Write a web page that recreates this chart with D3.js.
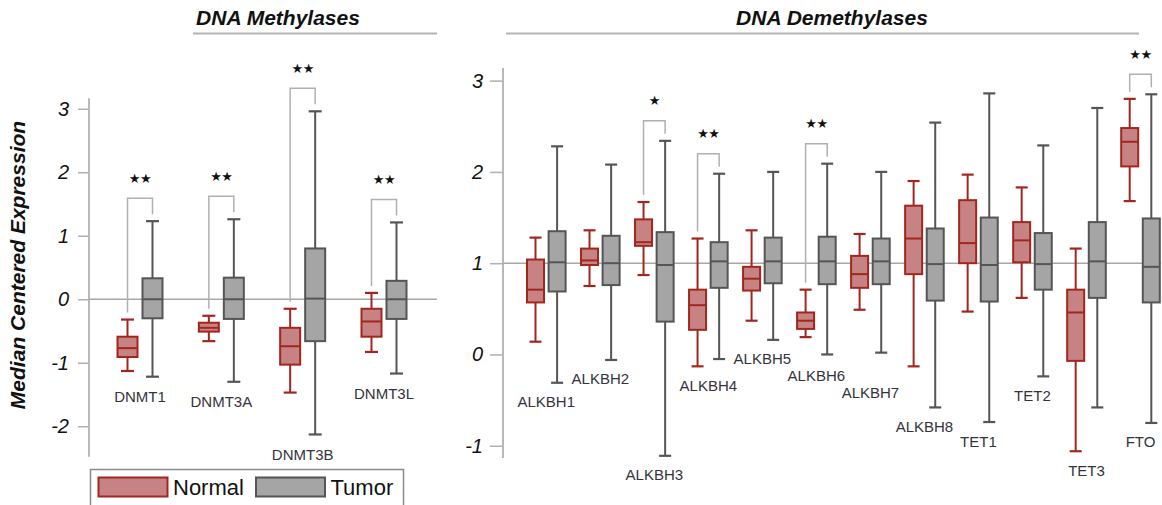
<!DOCTYPE html>
<html><head><meta charset="utf-8">
<script src="https://cdn.jsdelivr.net/npm/d3@7"></script>
<style>body{margin:0;background:#fff}svg{display:block}</style>
</head><body>
<svg id="c" width="1162" height="505"></svg>
<script>
// ---------- data ----------
const leftCats = ["DNMT1","DNMT3A","DNMT3B","DNMT3L"];
// [low whisker, Q1, median, Q3, high whisker]
const leftNormal = [
  [-1.13,-0.91,-0.77,-0.59,-0.32],
  [-0.66,-0.51,-0.45,-0.37,-0.26],
  [-1.47,-1.03,-0.74,-0.45,-0.15],
  [-0.83,-0.59,-0.35,-0.15, 0.10]
];
const leftTumor = [
  [-1.22,-0.30, 0.00, 0.33, 1.23],
  [-1.30,-0.31, 0.00, 0.34, 1.26],
  [-2.13,-0.66, 0.01, 0.80, 2.96],
  [-1.17,-0.31, 0.00, 0.29, 1.21]
];
const leftSig = [["DNMT1","**"],["DNMT3A","**"],["DNMT3B","**"],["DNMT3L","**"]];
const leftTicks = [3,2,1,0,-1,-2];

const rightCats = ["ALKBH1","ALKBH2","ALKBH3","ALKBH4","ALKBH5","ALKBH6","ALKBH7","ALKBH8","TET1","TET2","TET3","FTO"];
const rightNormal = [
  [ 0.14, 0.57, 0.71, 1.04, 1.28],
  [ 0.75, 0.98, 1.03, 1.16, 1.36],
  [ 0.87, 1.19, 1.23, 1.48, 1.67],
  [-0.13, 0.27, 0.54, 0.71, 1.27],
  [ 0.37, 0.70, 0.83, 0.96, 1.36],
  [ 0.19, 0.28, 0.37, 0.46, 0.71],
  [ 0.49, 0.73, 0.88, 1.08, 1.32],
  [-0.13, 0.88, 1.27, 1.63, 1.90],
  [ 0.47, 1.00, 1.22, 1.69, 1.97],
  [ 0.62, 1.01, 1.25, 1.45, 1.83],
  [-1.06,-0.07, 0.46, 0.71, 1.16],
  [ 1.68, 2.06, 2.33, 2.48, 2.80]
];
const rightTumor = [
  [-0.31, 0.69, 1.01, 1.35, 2.28],
  [-0.06, 0.76, 1.00, 1.30, 2.08],
  [-1.11, 0.36, 0.98, 1.34, 2.34],
  [-0.05, 0.73, 1.02, 1.23, 1.98],
  [ 0.16, 0.78, 1.02, 1.28, 2.00],
  [ 0.00, 0.77, 1.02, 1.29, 2.09],
  [ 0.02, 0.77, 1.02, 1.27, 2.00],
  [-0.58, 0.59, 0.99, 1.38, 2.54],
  [-0.74, 0.58, 0.98, 1.50, 2.86],
  [-0.24, 0.71, 0.99, 1.33, 2.29],
  [-0.58, 0.62, 1.02, 1.45, 2.70],
  [-0.75, 0.57, 0.96, 1.49, 2.85]
];
const rightSig = [["ALKBH3","*"],["ALKBH4","**"],["ALKBH6","**"],["FTO","**"]];
const rightTicks = [3,2,1,0,-1];

const groups = ["Normal","Tumor"];
const panelTitles = ["DNA Methylases","DNA Demethylases"];
const yTitle = "Median Centered Expression";

// ---------- style ----------
const FONT = "Arial, 'Liberation Sans', sans-serif";
const colors = {
  Normal: {fill:"#c78383", stroke:"#a3261e"},
  Tumor:  {fill:"#a5a5a5", stroke:"#555555"}
};
const svg = d3.select("#c");

function panel(cfg){
  const g = svg.append("g");
  const y = d3.scaleLinear().domain(cfg.yDomain).range(cfg.yRange);
  const x = d3.scalePoint().domain(cfg.cats).range(cfg.xRange);
  const sub = d3.scalePoint().domain(groups).range([-cfg.off, cfg.off]);

  // title
  g.append("text").attr("x", cfg.titleX).attr("y", 25).attr("text-anchor","middle")
    .attr("font-family",FONT).attr("font-size",21).attr("font-weight","bold").attr("font-style","italic")
    .attr("fill","#111").text(cfg.title);
  g.append("line").attr("x1",cfg.ulX[0]).attr("x2",cfg.ulX[1]).attr("y1",33.5).attr("y2",33.5)
    .attr("stroke","#b4b4b4").attr("stroke-width",2);

  // axis
  const axis = d3.axisLeft(y).tickValues(cfg.ticks).tickSize(cfg.tickLen).tickPadding(cfg.tickPad)
    .tickFormat(d3.format("d"));
  const ag = g.append("g").attr("transform",`translate(${cfg.axisX},0)`).call(axis);
  ag.select(".domain").remove();
  ag.selectAll(".tick line").attr("stroke","#b0b0b0").attr("stroke-width",1.5);
  ag.selectAll(".tick text").attr("font-family",FONT).attr("font-size",20).attr("font-style","italic")
    .attr("fill","#111").text(d=> d<0 ? "-"+Math.abs(d) : d);
  g.append("line").attr("x1",cfg.axisX).attr("x2",cfg.axisX)
    .attr("y1",cfg.yRange[1]).attr("y2",cfg.yRange[0]).attr("stroke","#b8b8b8").attr("stroke-width",2);

  // reference line
  g.append("line").attr("x1",cfg.axisX).attr("x2",cfg.refEnd)
    .attr("y1",y(cfg.ref)).attr("y2",y(cfg.ref)).attr("stroke","#a8a8a8").attr("stroke-width",1.5);

  // significance brackets
  cfg.sig.forEach(([cat,lab])=>{
    const i = cfg.cats.indexOf(cat);
    const hiN = cfg.normal[i][4], hiT = cfg.tumor[i][4];
    const top = y(Math.max(hiN,hiT)) - cfg.brGap;
    const xn = x(cat)+sub("Normal"), xt = x(cat)+sub("Tumor");
    g.append("path").attr("d",`M${xn},${y(hiN)-7}V${top}H${xt}V${y(hiT)-7}`)
      .attr("fill","none").attr("stroke","#b0b0b0").attr("stroke-width",1.5);
    g.append("text").attr("x",x(cat)).attr("y",top-20).attr("text-anchor","middle")
      .attr("dominant-baseline","central").attr("font-family","DejaVu Sans").attr("font-size",13)
      .attr("letter-spacing",-0.5).attr("fill","#111").text(lab.replace(/\*/g,"★"));
  });

  // boxes
  groups.forEach(gr=>{
    const data = gr==="Normal" ? cfg.normal : cfg.tumor;
    const c = colors[gr];
    const bg = g.append("g");
    cfg.cats.forEach((cat,i)=>{
      const [lo,q1,md,q3,hi] = data[i];
      const cx = x(cat)+sub(gr);
      const w = cfg.boxW, cw = cfg.capW;
      bg.append("line").attr("x1",cx).attr("x2",cx).attr("y1",y(hi)).attr("y2",y(q3))
        .attr("stroke",c.stroke).attr("stroke-width",2);
      bg.append("line").attr("x1",cx).attr("x2",cx).attr("y1",y(q1)).attr("y2",y(lo))
        .attr("stroke",c.stroke).attr("stroke-width",2);
      bg.append("line").attr("x1",cx-cw/2).attr("x2",cx+cw/2).attr("y1",y(hi)).attr("y2",y(hi))
        .attr("stroke",c.stroke).attr("stroke-width",2.2);
      bg.append("line").attr("x1",cx-cw/2).attr("x2",cx+cw/2).attr("y1",y(lo)).attr("y2",y(lo))
        .attr("stroke",c.stroke).attr("stroke-width",2.2);
      bg.append("rect").attr("x",cx-w/2).attr("y",y(q3)).attr("width",w).attr("height",y(q1)-y(q3))
        .attr("fill",c.fill).attr("stroke",c.stroke).attr("stroke-width",2);
      bg.append("line").attr("x1",cx-w/2).attr("x2",cx+w/2).attr("y1",y(md)).attr("y2",y(md))
        .attr("stroke",c.stroke).attr("stroke-width",2);
    });
  });

  // category labels with simple collision avoidance
  const placed = [];
  cfg.cats.forEach((cat,i)=>{
    const lo = Math.min(cfg.normal[i][0], cfg.tumor[i][0]);
    let ly = y(lo) + cfg.labGap;
    const t = g.append("text").attr("x",x(cat)).attr("text-anchor","middle")
      .attr("dominant-baseline","central").attr("font-family",FONT).attr("font-size",15)
      .attr("fill","#33333d").text(cat);
    const w = t.node().getComputedTextLength();
    const h = 15;
    const x0 = x(cat)-w/2, x1 = x(cat)+w/2;
    let moved = true;
    while(moved){
      moved = false;
      for(const p of placed){
        if(x0 < p.x1 && x1 > p.x0 && Math.abs(ly-p.y) < h){ ly = p.y + h + 2; moved = true; }
      }
    }
    placed.push({x0,x1,y:ly});
    t.attr("y",ly);
  });
}

panel({
  cats:leftCats, normal:leftNormal, tumor:leftTumor, sig:leftSig, ticks:leftTicks,
  yDomain:[-2.48,3.165], yRange:[456.7,98.3], xRange:[140,384], off:12.5,
  boxW:20, capW:13, axisX:89, tickLen:11, tickPad:9, ref:0, refEnd:437,
  title:panelTitles[0], titleX:278, ulX:[193,437], brGap:23, labGap:20
});
panel({
  cats:rightCats, normal:rightNormal, tumor:rightTumor, sig:rightSig, ticks:rightTicks,
  yDomain:[-1.134,3.138], yRange:[458,68], xRange:[546.3,1140.5], off:10.8,
  boxW:17, capW:12, axisX:503, tickLen:13, tickPad:7, ref:1, refEnd:1161,
  title:panelTitles[1], titleX:832, ulX:[506,1139], brGap:20, labGap:19
});

// y axis title
svg.append("text").attr("transform","translate(25,265) rotate(-90)").attr("text-anchor","middle")
  .attr("font-family",FONT).attr("font-size",21).attr("font-weight","bold").attr("font-style","italic")
  .attr("fill","#111").text(yTitle);

// legend
const lg = svg.append("g");
lg.append("rect").attr("x",90.5).attr("y",469.5).attr("width",313).attr("height",40)
  .attr("fill","#fff").attr("stroke","#8a8a8a").attr("stroke-width",1.5);
const legX = d3.scaleOrdinal().domain(groups).range([98.5,256]);
groups.forEach(gr=>{
  lg.append("rect").attr("x",legX(gr)).attr("y",477.5).attr("width",69).attr("height",19)
    .attr("fill",colors[gr].fill).attr("stroke",colors[gr].stroke).attr("stroke-width",2);
  lg.append("text").attr("x",legX(gr)+74.5).attr("y",495).attr("font-family",FONT).attr("font-size",22)
    .attr("fill","#111").text(gr);
});
</script>
</body></html>
